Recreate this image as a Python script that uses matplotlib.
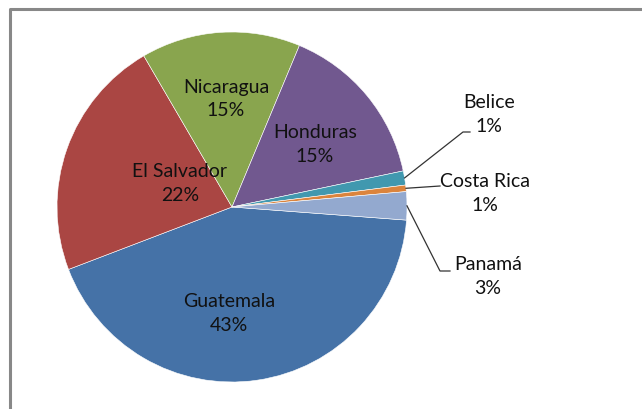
import numpy as np
import matplotlib.pyplot as plt

# Share of the total by country
countries = ["Guatemala", "El Salvador", "Nicaragua", "Honduras", "Belice", "Costa Rica", "Panamá"]
shares = [43.0, 22.4, 14.7, 15.4, 1.3, 0.6, 2.6]
colors = ["#4572A7", "#AA4643", "#89A54E", "#71588F", "#4198AF", "#DB843D", "#93A9CF"]

plt.rcParams["font.family"] = ["Lato", "DejaVu Sans"]

fig = plt.figure(figsize=(6.42, 4.10), dpi=100)
ax = fig.add_axes([0, 0, 1, 1])

# chart frame (runs off the right and bottom edges)
ax.plot([10, 10, 660], [-20, 400, 400], color="#888888", lw=2.2, solid_capstyle="butt")

cx, cy, r = 232, 202, 175
wedges, _ = ax.pie(shares, colors=colors, startangle=-4.3, counterclock=False,
                   center=(cx, cy), radius=r, frame=True,
                   wedgeprops=dict(edgecolor="white", linewidth=0.4))
ax.set_xlim(0, 642)
ax.set_ylim(0, 410)
ax.set_aspect("equal")
ax.axis("off")

# label positions (pixels, y measured from bottom)
inside = {"Guatemala": (229, 96), "El Salvador": (180, 226),
          "Nicaragua": (226, 311), "Honduras": (315, 266)}
outside = {"Belice": (489, 296), "Costa Rica": (485, 216), "Panamá": (488, 133)}
# leader line elbows for outside labels
elbows = {"Belice": [(463, 277), (470, 277)],
          "Costa Rica": [(440, 223)],
          "Panamá": [(440, 138), (450, 138)]}

for w, name, val in zip(wedges, countries, shares):
    txt = f"{name}\n{val:.0f}%"
    if name in inside:
        x, y = inside[name]
    else:
        x, y = outside[name]
        mid = np.deg2rad((w.theta1 + w.theta2) / 2)
        pts = [(cx + r * np.cos(mid), cy + r * np.sin(mid))] + elbows[name]
        xs, ys = zip(*pts)
        ax.plot(xs, ys, color="#333333", lw=0.9)
    ax.text(x, y, txt, ha="center", va="center", fontsize=14,
            color="#111111", linespacing=1.5)

fig.savefig("out.png", dpi=100)
